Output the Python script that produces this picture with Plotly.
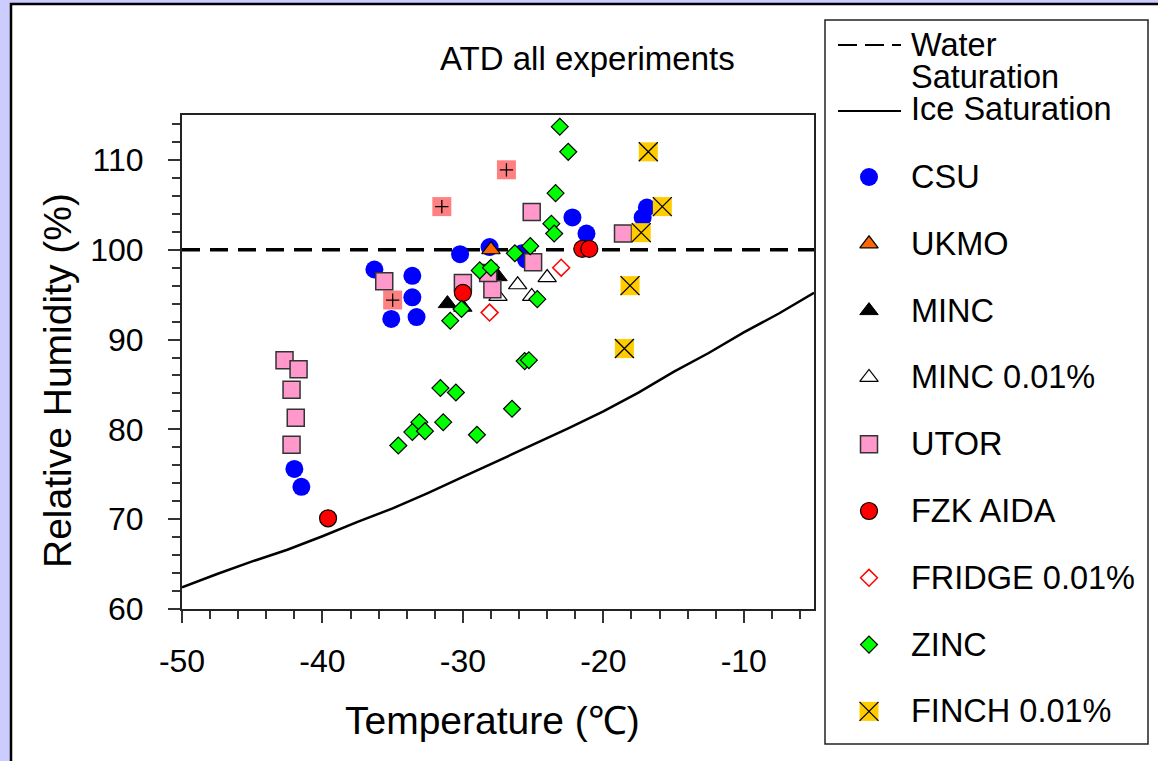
import plotly.graph_objects as go

# ---------------- data ----------------
ice_t = [-50, -47.5, -45, -42.5, -40, -37.5, -35, -32.5, -30, -27.5, -25,
         -22.5, -20, -17.5, -15, -12.5, -10, -7.5, -5]
ice_rh = [62.4, 63.9, 65.3, 66.6, 68.1, 69.7, 71.2, 72.9, 74.7, 76.5, 78.3,
          80.1, 82.0, 84.1, 86.4, 88.5, 90.8, 92.9, 95.2]

water_t = [-50, -5]
water_rh = [100, 100]

csu_t = [-36.3, -33.6, -33.6, -35.1, -33.3, -30.2, -28.1, -25.8, -25.5, -22.2,
         -21.2, -17.2, -16.9, -42.0, -41.5]
csu_rh = [97.8, 97.1, 94.7, 92.3, 92.5, 99.5, 100.3, 99.6, 98.9, 103.6,
          101.8, 103.6, 104.7, 75.6, 73.6]

ukmo_t = [-28.0]
ukmo_rh = [100.0]

minc_t = [-31.1, -30.0, -27.5]
minc_rh = [94.0, 93.6, 97.0]

minc001_t = [-26.1, -24.0, -25.1, -27.5]
minc001_rh = [96.1, 96.9, 94.8, 94.8]

utor_t = [-35.6, -30.0, -27.9, -28.2, -25.1, -25.0, -18.6, -42.7, -41.7, -42.2,
          -41.9, -42.2]
utor_rh = [96.5, 96.3, 95.6, 97.4, 104.2, 98.6, 101.8, 87.7, 86.7, 84.4,
           81.3, 78.3]

fzk_t = [-30.0, -21.5, -21.0, -39.6]
fzk_rh = [95.2, 100.1, 100.1, 70.1]

fridge_t = [-28.1, -23.0]
fridge_rh = [93.0, 98.0]

zinc_t = [-23.1, -22.5, -23.4, -23.7, -23.5, -25.2, -26.3, -28.8, -28.0, -24.7,
          -30.1, -30.9, -25.6, -25.3, -31.6, -30.5, -33.1, -33.6, -32.7, -31.4,
          -34.6, -29.0, -26.5]
zinc_rh = [113.7, 110.9, 106.3, 102.9, 101.8, 100.4, 99.6, 97.7, 98.0, 94.5,
           93.4, 92.1, 87.6, 87.7, 84.6, 84.1, 80.8, 79.7, 79.8, 80.8,
           78.2, 79.4, 82.3]

finch_t = [-16.8, -15.8, -17.3, -18.1, -18.5]
finch_rh = [110.9, 104.8, 101.9, 96.0, 89.0]

# unlabelled salmon squares with a plus sign
extra_t = [-31.5, -35.0, -26.9]
extra_rh = [104.8, 94.4, 108.9]

x_tick_vals = [-50, -40, -30, -20, -10]
x_tick_labels = ["-50", "-40", "-30", "-20", "-10"]
y_tick_vals = [60, 70, 80, 90, 100, 110]
y_tick_labels = ["60", "70", "80", "90", "100", "110"]

series_names = ["CSU", "UKMO", "MINC", "MINC 0.01%", "UTOR", "FZK AIDA",
                "FRIDGE 0.01%", "ZINC", "FINCH 0.01%"]

# ---------------- styles ----------------
FONT = "Liberation Sans, Arial, Helvetica, sans-serif"
W, H = 1158, 761
PL, PR, PT, PB = 182, 814, 115, 609   # plot area in pixels

styles = {
    "CSU": [dict(symbol="circle", size=18, color="#0000FF", line=dict(width=0))],
    "UKMO": [dict(symbol="triangle-up", size=16, color="#FF6600",
                  line=dict(color="black", width=1.2))],
    "MINC": [dict(symbol="triangle-up", size=16, color="black",
                  line=dict(color="black", width=1))],
    "MINC 0.01%": [dict(symbol="triangle-up", size=16, color="white",
                        line=dict(color="black", width=1.2))],
    "UTOR": [dict(symbol="square", size=17, color="#FF99CC",
                  line=dict(color="#333333", width=1.5))],
    "FZK AIDA": [dict(symbol="circle", size=17, color="#FF0000",
                      line=dict(color="black", width=1.2))],
    "FRIDGE 0.01%": [dict(symbol="diamond", size=13, color="white",
                          line=dict(color="#FF0000", width=1.5))],
    "ZINC": [dict(symbol="diamond", size=13, color="#00FF00",
                  line=dict(color="black", width=1.2))],
    "FINCH 0.01%": [dict(symbol="square", size=19, color="#FFCC00", line=dict(width=0)),
                    dict(symbol="x-thin", size=19, color="black",
                         line=dict(color="black", width=1.3))],
}
extra_style = [dict(symbol="square", size=19, color="#FF8080", line=dict(width=0)),
               dict(symbol="cross-thin", size=9.5, color="black",
                    line=dict(color="black", width=1.3))]

series_data = {
    "CSU": (csu_t, csu_rh),
    "UKMO": (ukmo_t, ukmo_rh),
    "MINC": (minc_t, minc_rh),
    "MINC 0.01%": (minc001_t, minc001_rh),
    "UTOR": (utor_t, utor_rh),
    "FZK AIDA": (fzk_t, fzk_rh),
    "FRIDGE 0.01%": (fridge_t, fridge_rh),
    "ZINC": (zinc_t, zinc_rh),
    "FINCH 0.01%": (finch_t, finch_rh),
}

fig = go.Figure()

# saturation lines
fig.add_trace(go.Scatter(x=ice_t, y=ice_rh, mode="lines",
                         line=dict(color="black", width=2.5),
                         name="Ice Saturation", showlegend=False))
fig.add_trace(go.Scatter(x=water_t, y=water_rh, mode="lines",
                         line=dict(color="black", width=3.5, dash="18px,10px"),
                         name="Water Saturation", showlegend=False))

# unlabelled series (drawn beneath)
for st in extra_style:
    fig.add_trace(go.Scatter(x=extra_t, y=extra_rh, mode="markers", marker=st,
                             showlegend=False, hoverinfo="skip"))

# labelled series
for name in series_names:
    xs, ys = series_data[name]
    for st in styles[name]:
        fig.add_trace(go.Scatter(x=xs, y=ys, mode="markers", marker=st,
                                 name=name, showlegend=False))

# ---------------- custom legend on a pixel axis (x2/y2) ----------------
LEG_MX, LEG_TX = 869, 909
leg_row0, leg_step = 177, 66.8
for i, name in enumerate(series_names):
    yy = leg_row0 + i * leg_step
    for st in styles[name]:
        fig.add_trace(go.Scatter(x=[LEG_MX], y=[yy], mode="markers", marker=st,
                                 xaxis="x2", yaxis="y2", showlegend=False,
                                 hoverinfo="skip", cliponaxis=False))

LEG_FS = 32.5
annotations = []
for i, name in enumerate(series_names):
    yy = leg_row0 + i * leg_step
    annotations.append(dict(x=LEG_TX, y=yy, xref="x2", yref="y2", text=name,
                            showarrow=False, xanchor="left", yanchor="middle",
                            font=dict(size=LEG_FS, family=FONT, color="black")))
for txt, yy in [("Water", 45), ("Saturation", 77), ("Ice Saturation", 109)]:
    annotations.append(dict(x=LEG_TX, y=yy, xref="x2", yref="y2", text=txt,
                            showarrow=False, xanchor="left", yanchor="middle",
                            font=dict(size=LEG_FS, family=FONT, color="black")))

# title and axis titles
annotations.append(dict(x=587, y=58, xref="x2", yref="y2", text="ATD all experiments",
                        showarrow=False, xanchor="center", yanchor="middle",
                        font=dict(size=33, family=FONT, color="black")))
annotations.append(dict(x=492, y=720, xref="x2", yref="y2", text="Temperature (℃)",
                        showarrow=False, xanchor="center", yanchor="middle",
                        font=dict(size=39, family=FONT, color="black")))
annotations.append(dict(x=57, y=381, xref="x2", yref="y2", text="Relative Humidity (%)",
                        showarrow=False, xanchor="center", yanchor="middle",
                        textangle=-90,
                        font=dict(size=39, family=FONT, color="black")))

def px_x(v):
    return v / W

def px_y(v):
    return 1 - v / H

shapes = [
    # white page with black top/left edge (paper-referenced, beneath all subplots)
    dict(type="rect", xref="paper", yref="paper", x0=px_x(11), y0=px_y(790),
         x1=px_x(1180), y1=px_y(4),
         fillcolor="white", line=dict(color="black", width=2.5), layer="below"),
    # legend box
    dict(type="rect", xref="x2", yref="y2", x0=825, y0=20, x1=1148, y1=744,
         fillcolor="rgba(0,0,0,0)", line=dict(color="#222222", width=1.5)),
    # legend line symbols
    dict(type="line", xref="x2", yref="y2", x0=838, y0=45, x1=901, y1=45,
         line=dict(color="black", width=2, dash="19px,8px")),
    dict(type="line", xref="x2", yref="y2", x0=838, y0=111, x1=901, y1=111,
         line=dict(color="black", width=2)),
]

axis_common = dict(ticks="outside", ticklen=12, tickwidth=1.5, tickcolor="#333333",
                   showline=True, linecolor="#222222", linewidth=2, mirror=True,
                   showgrid=False, zeroline=False, automargin=False,
                   tickfont=dict(size=32, family=FONT, color="black"))

fig.update_layout(
    width=W, height=H,
    margin=dict(l=0, r=0, t=0, b=0, pad=0),
    paper_bgcolor="#CCCCFF",
    plot_bgcolor="rgba(0,0,0,0)",
    showlegend=False,
    font=dict(family=FONT, color="black"),
    xaxis=dict(domain=[PL / W, PR / W], range=[-50, -5],
               tickmode="array", tickvals=x_tick_vals, ticktext=x_tick_labels,
               minor=dict(dtick=2, tick0=-50, ticks="outside", ticklen=8,
                          tickwidth=1.5, tickcolor="#333333", showgrid=False),
               ticklabelstandoff=11,
               **axis_common),
    yaxis=dict(domain=[(H - PB) / H, (H - PT) / H], range=[60, 115],
               tickmode="array", tickvals=y_tick_vals, ticktext=y_tick_labels,
               minor=dict(dtick=2, tick0=60, ticks="outside", ticklen=8,
                          tickwidth=1.5, tickcolor="#333333", showgrid=False),
               ticklabelstandoff=18,
               **axis_common),
    xaxis2=dict(domain=[0, 1], range=[0, W], visible=False, anchor="y2",
                fixedrange=True),
    yaxis2=dict(domain=[0, 1], range=[H, 0], visible=False, anchor="x2",
                fixedrange=True),
    shapes=shapes,
    annotations=annotations,
)

fig.write_html("out.html", config={"displayModeBar": False},
               post_script="document.body.style.margin='0';")
